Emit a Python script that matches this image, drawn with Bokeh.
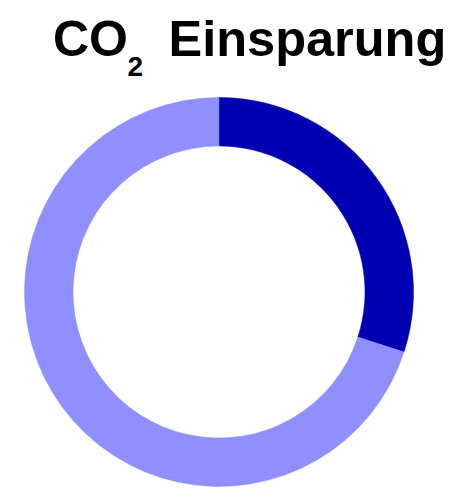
import math
from bokeh.plotting import figure
from bokeh.models import Label, Range1d, ColumnDataSource
from bokeh.embed import file_html
from bokeh.resources import INLINE

categories = ["Einsparung", "Rest"]
values = [30, 70]
colors = ["#0000B2", "#8F8FFF"]

W, H = 458, 488
p = figure(width=W, height=H, output_backend="svg", toolbar_location=None,
           x_range=Range1d(0, W), y_range=Range1d(0, H), min_border=0)
p.axis.visible = False
p.grid.visible = False
p.outline_line_color = None
p.background_fill_color = "white"
p.border_fill_color = "white"

total = sum(values)
starts, ends = [], []
acc = 0.0
for v in values:
    end = math.pi / 2 - 2 * math.pi * acc / total
    acc += v
    start = math.pi / 2 - 2 * math.pi * acc / total
    starts.append(start)
    ends.append(end)

src = ColumnDataSource(dict(cat=categories, val=values, color=colors,
                            start=starts, end=ends))
cx, cy = 218.5, H - 291.5
p.annular_wedge(x=cx, y=cy, inner_radius=146, outer_radius=194.5,
                start_angle="start", end_angle="end", direction="anticlock",
                fill_color="color", line_color="color", line_width=0.5, source=src)

font = "Liberation Sans"
p.add_layout(Label(x=52.5, y=H - 38, text="CO", text_font=font, text_font_style="bold",
                   text_font_size="50px", text_baseline="alphabetic", text_color="black"))
p.add_layout(Label(x=127, y=H - 65.5, text="2", text_font=font, text_font_style="bold",
                   text_font_size="28px", text_baseline="alphabetic", text_color="black"))
p.add_layout(Label(x=168, y=H - 38, text="Einsparung", text_font=font, text_font_style="bold",
                   text_font_size="50.5px", text_baseline="alphabetic", text_color="black"))

open("out.html", "w").write(file_html(p, INLINE))
